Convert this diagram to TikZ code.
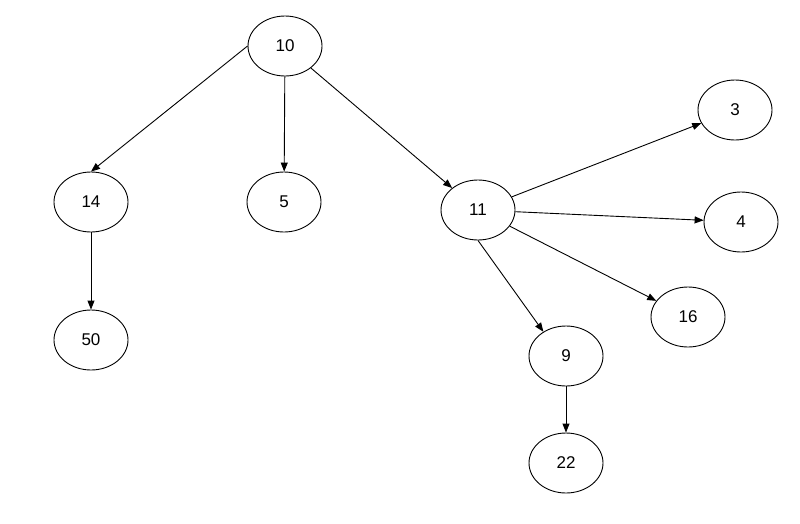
\documentclass[tikz,border=0pt]{standalone}
\usepackage{fontspec}
\setmainfont{Liberation Sans}
\usetikzlibrary{arrows.meta,shapes.geometric}
\begin{document}
\begin{tikzpicture}[x=1pt,y=-1pt,
  vert/.style={draw,ellipse,minimum width=74pt,minimum height=60pt,inner sep=0pt,line width=0.9pt,font=\fontsize{17}{19}\selectfont},
  edge/.style={draw,line width=0.9pt,-{Triangle[length=9pt,width=7pt]}}]
\useasboundingbox (0,0) rectangle (800,523);
\node[vert] (n10) at (285,46) {10};
\node[vert] (n14) at (91,202) {14};
\node[vert] (n5) at (284,202) {5};
\node[vert] (n11) at (478,210) {11};
\node[vert] (n3) at (735,110) {3};
\node[vert] (n4) at (741,222) {4};
\node[vert] (n16) at (688,317) {16};
\node[vert] (n50) at (91,340) {50};
\node[vert] (n9) at (566,356) {9};
\node[vert] (n22) at (566,463) {22};
\path[edge] (n10.west) -- (n14.north);
\path[edge] (n10) -- (n5);
\path[edge] (n10) -- (n11);
\path[edge] (n14) -- (n50);
\path[edge] (n11) -- (n3);
\path[edge] (n11) -- (n4);
\path[edge] (n11) -- (n16);
\path[edge] (n11.south) -- (n9.133);
\path[edge] (n9) -- (n22);
\end{tikzpicture}
\end{document}
